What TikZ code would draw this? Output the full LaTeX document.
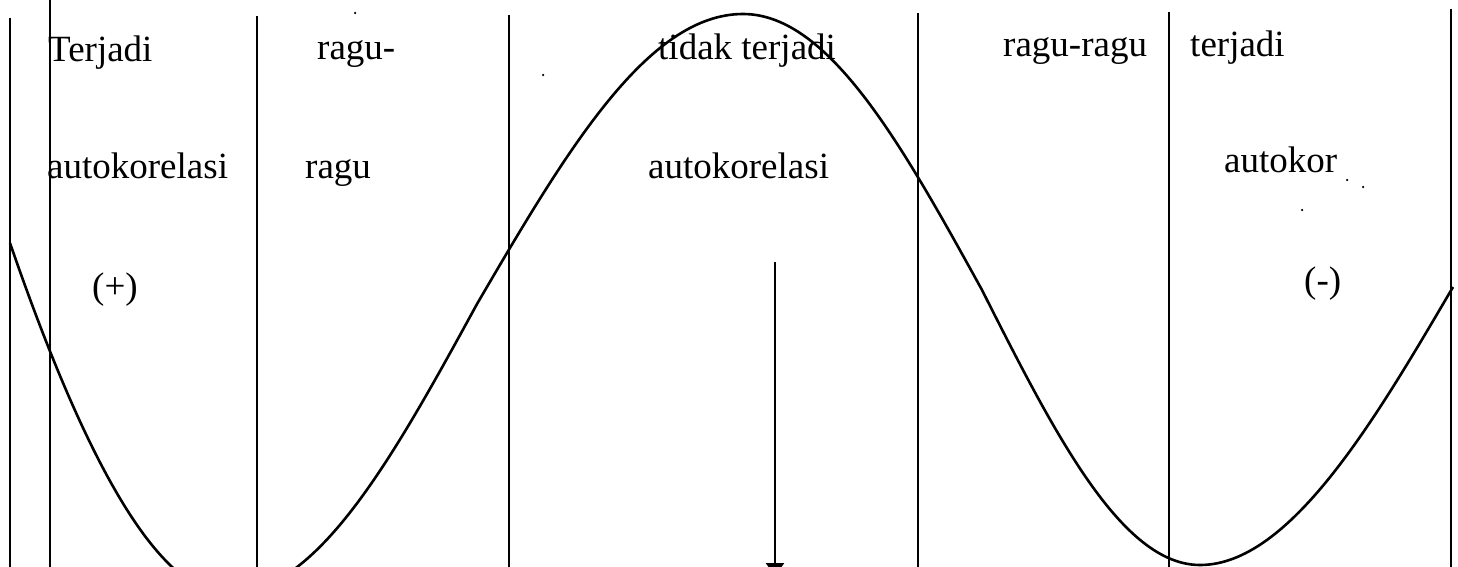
\documentclass[tikz,border=0pt]{standalone}
\usepackage{fontspec}
\setmainfont{Liberation Serif}
\usetikzlibrary{arrows.meta}
\begin{document}
\begin{tikzpicture}[x=1pt,y=-1pt,
  vline/.style={line width=2.4pt},
  wave/.style={line width=2.6pt,line join=round},
  lbl/.style={anchor=base west,inner sep=0pt,font=\fontsize{37}{44}\selectfont},
  speck/.style={fill=black,draw=none,circle,inner sep=0pt,minimum size=2.5pt}]
\useasboundingbox (0,0) rectangle (1458,567);
\clip (0,0) rectangle (1458,567);
\fill[white] (0,0) rectangle (1458,567);
% vertical division lines
\coordinate (a1) at (10,18);   \coordinate (a2) at (10,567);
\coordinate (b1) at (50,0);    \coordinate (b2) at (50,567);
\coordinate (c1) at (257,16);  \coordinate (c2) at (257,567);
\coordinate (d1) at (509,15);  \coordinate (d2) at (509,567);
\coordinate (e1) at (918,13);  \coordinate (e2) at (918,567);
\coordinate (f1) at (1169,12); \coordinate (f2) at (1169,567);
\coordinate (g1) at (1451,9);  \coordinate (g2) at (1451,567);
\foreach \p in {a,b,c,d,e,f,g}{\draw[vline] (\p1) -- (\p2);}
% wave
\coordinate (w0) at (10,243);
\coordinate (w1) at (228,594);
\coordinate (w2) at (477,304);
\coordinate (w3) at (743,14);
\coordinate (w4) at (982,290);
\coordinate (w5) at (1200,565);
\coordinate (w6) at (1453,287);
\draw[wave] (w0) .. controls (70,417) and (148,594) .. (w1)
  .. controls (317.6,594) and (393.8,456.3) .. (w2)
  .. controls (565.9,151.7) and (647.3,14) .. (w3)
  .. controls (829,14) and (902.1,145.1) .. (w4)
  .. controls (1054.9,434.4) and (1121.5,565) .. (w5)
  .. controls (1290,565) and (1375,420) .. (w6);
% arrow
\coordinate (ar1) at (775,262);
\coordinate (ar2) at (775,576);
\draw[line width=2.6pt,-{Triangle[width=18pt,length=13pt]}] (ar1) -- (ar2);
% labels
\node[lbl] (t1) at (48,62) {Terjadi};
\node[lbl] (t2) at (47,178) {autokorelasi};
\node[lbl] (t3) at (92,298) {(+)};
\node[lbl] (t4) at (317,60) {ragu-};
\node[lbl] (t5) at (305,178) {ragu};
\node[lbl] (t6) at (658,60) {tidak terjadi};
\node[lbl] (t7) at (648,178) {autokorelasi};
\node[lbl] (t8) at (1003,57) {ragu-ragu};
\node[lbl] (t9) at (1190,57) {terjadi};
\node[lbl] (t10) at (1224,172) {autokor};
\node[lbl] (t11) at (1304,292) {(-)};
% specks
\node[speck] (s1) at (355,13) {};
\node[speck] (s2) at (543,75) {};
\node[speck] (s3) at (1347,180) {};
\node[speck] (s4) at (1363,187) {};
\node[speck] (s5) at (1302,210) {};
\end{tikzpicture}
\end{document}
